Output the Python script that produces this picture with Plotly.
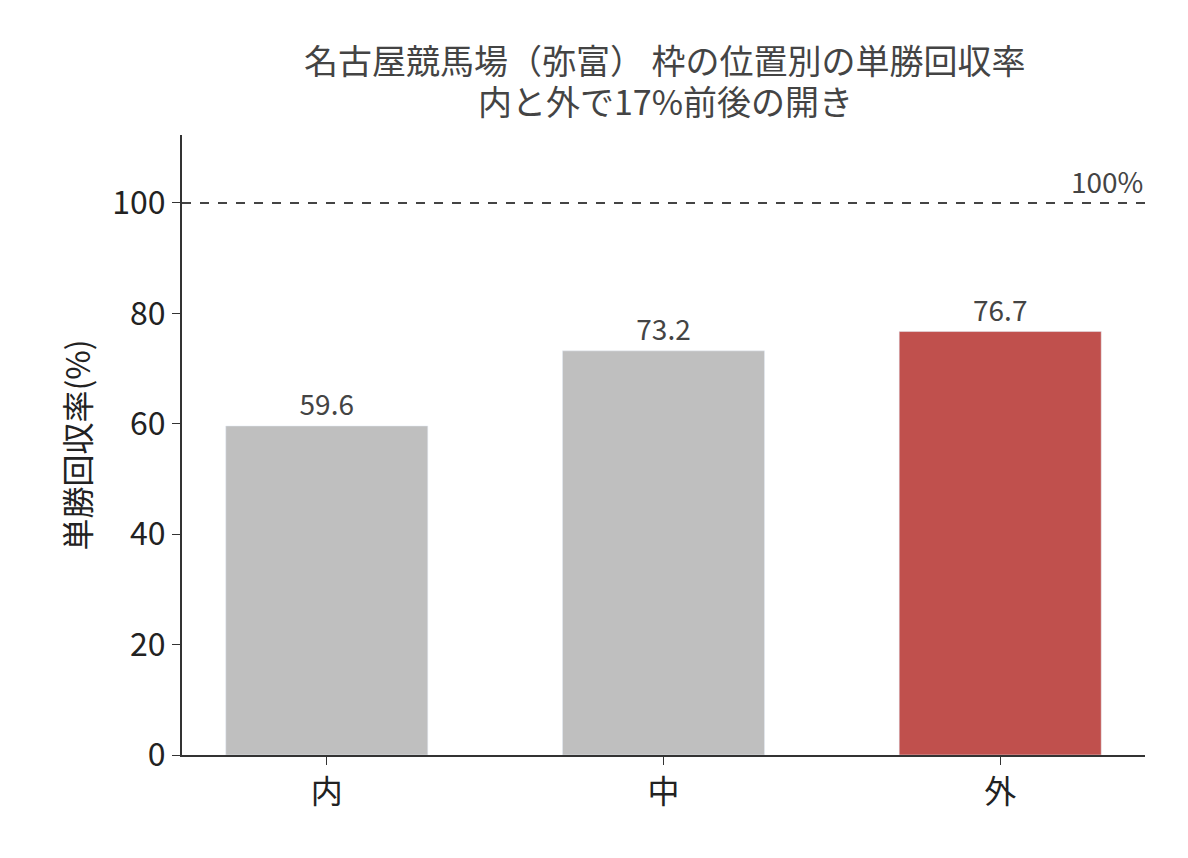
import plotly.graph_objects as go

categories = ["内", "中", "外"]
values = [59.6, 73.2, 76.7]
colors = ["#bfbfbf", "#bfbfbf", "#c0504d"]
y_ticks = [0, 20, 40, 60, 80, 100]
title_lines = ["名古屋競馬場（弥富） 枠の位置別の単勝回収率", "内と外で17%前後の開き"]

font = "Noto Sans CJK JP"

fig = go.Figure(go.Bar(
    x=categories, y=values, marker_color=colors, width=0.6,
    text=[f"{v:.1f}" for v in values], textposition="outside",
    textfont=dict(size=28, color="#444444", family=font), cliponaxis=False,
))

fig.add_hline(y=100, line_dash="dash", line_color="#444444", line_width=2)
fig.add_annotation(x=1, xref="paper", y=100, yref="y", text="100%", showarrow=False,
                   xanchor="right", yanchor="bottom", font=dict(size=28, color="#444444", family=font))

# title as two lines
for txt, yy in zip(title_lines, [1.121, 1.056]):
    fig.add_annotation(x=0.5016, xref="paper", y=yy, yref="paper", text=txt, showarrow=False,
                       xanchor="center", yanchor="middle",
                       font=dict(size=34, color="#444444", family=font))

fig.update_layout(
    width=1188, height=858, plot_bgcolor="white", paper_bgcolor="white",
    margin=dict(l=174, r=51, t=127, b=111),
    font=dict(family=font, color="#222222"),
    showlegend=False,
)
fig.update_xaxes(range=[-0.43, 2.43], showline=True, linecolor="#333333", linewidth=2,
                 ticks="outside", ticklen=8, tickcolor="#333333", tickfont=dict(size=32))
fig.update_yaxes(range=[0, 112.3], tickvals=y_ticks, showline=True, linecolor="#333333", linewidth=2,
                 ticks="outside", ticklen=8, tickcolor="#333333", tickfont=dict(size=32),
                 showgrid=False, zeroline=False,
                 title=dict(text="単勝回収率(%)", font=dict(size=32), standoff=12))

fig.write_html("out.html")
